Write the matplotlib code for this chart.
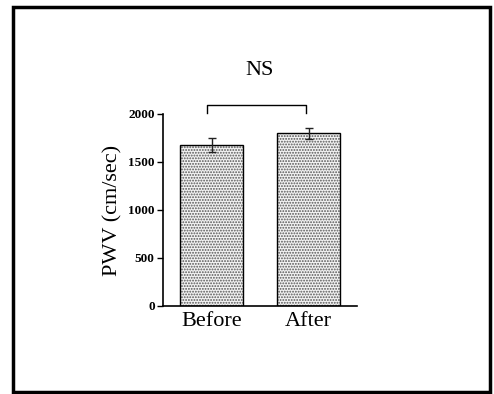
import matplotlib.pyplot as plt
from matplotlib.patches import Rectangle

plt.rcParams['font.family'] = ['Liberation Serif', 'DejaVu Serif']
plt.rcParams['hatch.linewidth'] = 0.9

# dados
groups = ['Before', 'After']
pwv = [1677, 1799]
pwv_err = [68, 60]
sig_label = 'NS'

fig = plt.figure(figsize=(4.94, 3.94), dpi=100)
ax = fig.add_axes([0.33, 0.2234, 0.3927, 0.4873])

x = list(range(len(groups)))
# preenchimento pontilhado + contorno preto
ax.bar(x, pwv, width=0.65, color='#f2f2f2', edgecolor='#555555', hatch='......', linewidth=0)
ax.bar(x, pwv, width=0.65, fill=False, edgecolor='black', linewidth=1.0)
ax.errorbar(x, pwv, yerr=pwv_err, fmt='none', ecolor='#222222', elinewidth=1.0, capsize=3, capthick=1.0)

# colchete de comparacao
top = 2095
ax.plot([x[0] - 0.05, x[0] - 0.05, x[1] - 0.03, x[1] - 0.03], [2010, top, top, 2010],
        color='black', linewidth=1.0, clip_on=False)
ax.text(0.5 * (x[0] + x[1]), 2450, sig_label, ha='center', va='center', fontsize=16)

ax.set_xlim(-0.5, 1.5)
ax.set_ylim(0, 2000)
ax.set_yticks([0, 500, 1000, 1500, 2000])
ax.set_xticks(x)
ax.set_xticklabels(groups, fontsize=16)
ax.tick_params(axis='x', length=0, pad=4)
ax.tick_params(axis='y', length=4, width=1, labelsize=9.5, pad=2)
for lab in ax.get_yticklabels():
    lab.set_fontweight('bold')
ax.set_ylabel('PWV (cm/sec)', fontsize=16, labelpad=4)
ax.spines['top'].set_visible(False)
ax.spines['right'].set_visible(False)
ax.spines['left'].set_linewidth(1.2)
ax.spines['bottom'].set_linewidth(1.2)

# moldura externa
fig.patches.append(Rectangle((0.027, 0.005), 0.965, 0.978, transform=fig.transFigure,
                             fill=False, edgecolor='black', linewidth=2.5))

fig.savefig('out.png', dpi=100)
